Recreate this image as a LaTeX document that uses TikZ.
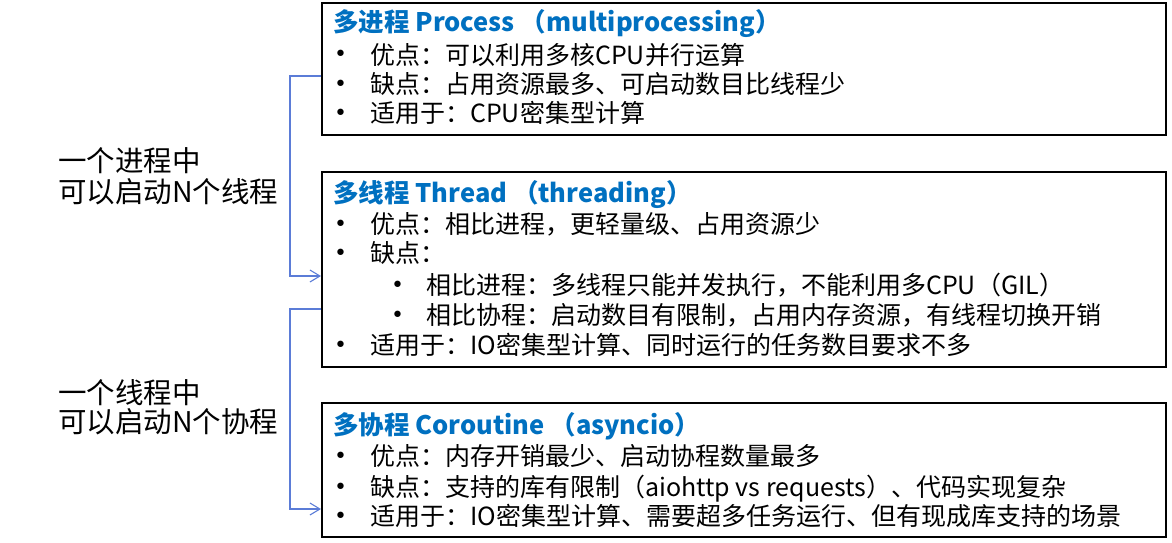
\documentclass[tikz,border=0pt]{standalone}
\usepackage{fontspec}
\setmainfont{Noto Sans CJK SC}
\newfontfamily\bulfont{DejaVu Sans}
\usetikzlibrary{arrows.meta}
\definecolor{titleblue}{RGB}{0,112,192}
\definecolor{connblue}{RGB}{91,124,215}
\tikzset{
  box/.style={draw=black, line width=2pt, inner sep=0pt},
  ln/.style={anchor=base west, inner sep=0pt, font=\fontsize{25}{29}\selectfont},
  bul/.style={anchor=base west, inner sep=0pt, font=\fontsize{22}{26}\selectfont\bulfont},
  ttl/.style={ln, text=titleblue, font=\fontsize{25.5}{29}\selectfont\bfseries},
  lft/.style={anchor=base west, inner sep=0pt, font=\fontsize{28.5}{32}\selectfont},
  conn/.style={draw=connblue, line width=1.1pt, -{Straight Barb[length=10pt,width=12pt,line width=1.1pt]}},
}
\begin{document}
\begin{tikzpicture}[x=1pt,y=-1pt]
\useasboundingbox (0,0) rectangle (1172,543);
% boxes
\node[box, minimum width=844pt, minimum height=132pt] (b1) at (744,69) {};
\node[box, minimum width=844pt, minimum height=195pt] (b2) at (744,269.5) {};
\node[box, minimum width=844pt, minimum height=134pt] (b3) at (744,470) {};
% box 1
\node[ttl] (t1) at (333,32) {多进程 Process （multiprocessing）};
\node[bul] (p1a) at (334,62) {•};
\node[bul] (p1b) at (334,91.5) {•};
\node[bul] (p1c) at (334,120.5) {•};
\node[ln] (q1a) at (370,64) {优点：可以利用多核CPU并行运算};
\node[ln] (q1b) at (370,93.5) {缺点：占用资源最多、可启动数目比线程少};
\node[ln] (q1c) at (370,122.5) {适用于：CPU密集型计算};
% box 2
\node[ttl] (t2) at (333,202) {多线程 Thread （threading）};
\node[bul] (p2a) at (334,231.5) {•};
\node[bul] (p2b) at (334,260.5) {•};
\node[bul] (p2c) at (391,292.5) {•};
\node[bul] (p2d) at (391,322.5) {•};
\node[bul] (p2e) at (334,352.5) {•};
\node[ln] (q2a) at (370,233.5) {优点：相比进程，更轻量级、占用资源少};
\node[ln] (q2b) at (370,262.5) {缺点：};
\node[ln] (q2c) at (426,294.5) {相比进程：多线程只能并发执行，不能利用多CPU（GIL）};
\node[ln] (q2d) at (426,324.5) {相比协程：启动数目有限制，占用内存资源，有线程切换开销};
\node[ln] (q2e) at (370,354.5) {适用于：IO密集型计算、同时运行的任务数目要求不多};
% box 3
\node[ttl] (t3) at (333,434.5) {多协程 Coroutine （asyncio）};
\node[bul] (p3a) at (334,463.5) {•};
\node[bul] (p3b) at (334,494.5) {•};
\node[bul] (p3c) at (334,523.5) {•};
\node[ln] (q3a) at (370,465.5) {优点：内存开销最少、启动协程数量最多};
\node[ln] (q3b) at (370,496.5) {缺点：支持的库有限制（aiohttp vs requests）、代码实现复杂};
\node[ln] (q3c) at (370,525.5) {适用于：IO密集型计算、需要超多任务运行、但有现成库支持的场景};
% left labels
\node[lft] (l1) at (58,171.5) {一个进程中};
\node[lft] (l2) at (58,202.5) {可以启动N个线程};
\node[lft] (l3) at (58,403.5) {一个线程中};
\node[lft] (l4) at (58,432) {可以启动N个协程};
% connectors
\draw[conn] ([yshift=-7pt]b1.west) -- ++(-31,0) |- ([yshift=-6.5pt]b2.west);
\draw[conn] ([yshift=-39.5pt]b2.west) -- ++(-31,0) |- ([yshift=-39pt]b3.west);
\end{tikzpicture}
\end{document}
